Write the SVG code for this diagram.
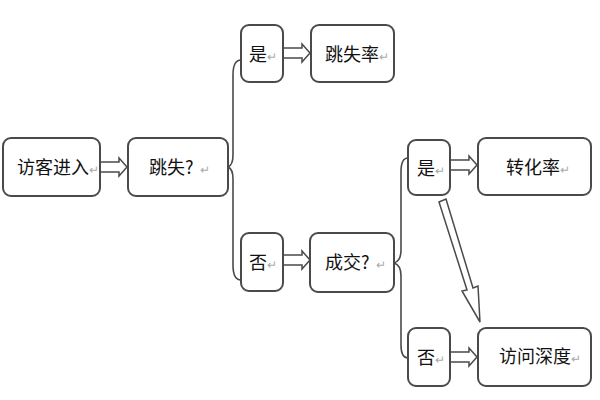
<svg xmlns="http://www.w3.org/2000/svg" width="600" height="400" viewBox="0 0 600 400">
<style>
.box{fill:#fff;stroke:#4a4a4a;stroke-width:2}
.t{font-family:"Noto Sans CJK SC","Liberation Sans",sans-serif;font-size:18px;fill:#111}
.r{fill:#aaa;font-size:12px}
.c{fill:none;stroke:#4a4a4a;stroke-width:1.6}
.a{fill:#fff;stroke:#4a4a4a;stroke-width:1.5}
</style>
<rect width="600" height="400" fill="#fff"/>
<g id="connectors">
<path class="c" d="M228,167 Q233,165 233,155 V75 Q233,60 241,60"/>
<path class="c" d="M228,167 Q233,169 233,179 V265 Q233,280 241,280"/>
<path class="c" d="M394,263 Q401,261 401,250 V172 Q401,158 408,158"/>
<path class="c" d="M394,263 Q401,265 401,276 V345 Q401,358 408,358"/>
<path class="a" d="M101,162 H119 V158 L127,167 L119,176 V172 H101"/>
<path class="a" d="M284,48 H302 V44 L310,53 L302,62 V58 H284"/>
<path class="a" d="M284,255 H302 V251 L310,260 L302,269 V265 H284"/>
<path class="a" d="M451,160 H469 V156 L477,165 L469,174 V170 H451"/>
<path class="a" d="M451,352 H469 V348 L477,357 L469,366 V362 H451"/>
<path class="a" d="M439,202 L446,199 L473,288 L478,286 L480,322 L462,291 L467,290 Z"/>
</g>
<g id="n1"><rect class="box" x="3" y="138" width="97" height="58" rx="8"/><text class="t" x="17" y="174">访客进入<tspan class="r">↵</tspan></text></g>
<g id="n2"><rect class="box" x="128" y="138" width="100" height="58" rx="8"/><text class="t" x="149" y="174">跳失?<tspan class="r" dx="6">↵</tspan></text></g>
<g id="n3"><rect class="box" x="241" y="25" width="42" height="57" rx="8"/><text class="t" x="249" y="61">是<tspan class="r">↵</tspan></text></g>
<g id="n4"><rect class="box" x="311" y="25" width="83" height="57" rx="8"/><text class="t" x="325" y="61">跳失率<tspan class="r">↵</tspan></text></g>
<g id="n5"><rect class="box" x="241" y="233" width="42" height="58" rx="8"/><text class="t" x="249" y="269">否<tspan class="r">↵</tspan></text></g>
<g id="n6"><rect class="box" x="310" y="233" width="84" height="59" rx="8"/><text class="t" x="325" y="269">成交?<tspan class="r" dx="6">↵</tspan></text></g>
<g id="n7"><rect class="box" x="408" y="140" width="42" height="55" rx="8"/><text class="t" x="417" y="175">是<tspan class="r">↵</tspan></text></g>
<g id="n8"><rect class="box" x="478" y="138" width="113" height="57" rx="8"/><text class="t" x="506" y="174">转化率<tspan class="r">↵</tspan></text></g>
<g id="n9"><rect class="box" x="408" y="328" width="42" height="58" rx="8"/><text class="t" x="417" y="364">否<tspan class="r">↵</tspan></text></g>
<g id="n10"><rect class="box" x="478" y="328" width="113" height="58" rx="8"/><text class="t" x="499" y="363">访问深度<tspan class="r">↵</tspan></text></g>
</svg>
